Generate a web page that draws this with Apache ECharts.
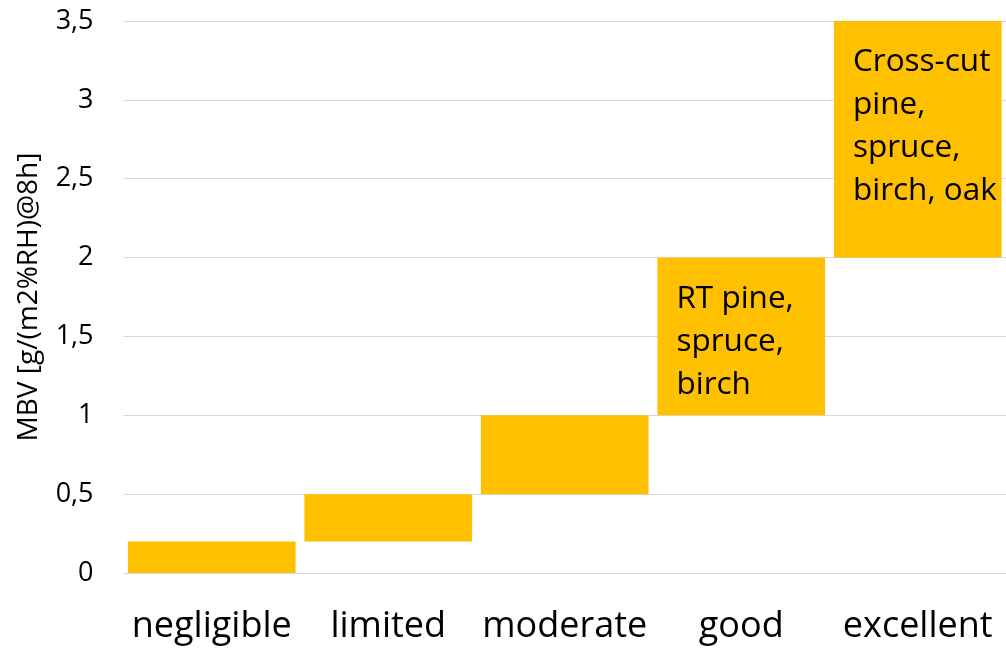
<!DOCTYPE html>
<html>
<head>
<meta charset="utf-8">
<script src="https://cdn.jsdelivr.net/npm/echarts@6/dist/echarts.min.js"></script>
<style>
  html, body { margin: 0; padding: 0; background: #fff; }
  #chart { width: 1006px; height: 651px; }
</style>
</head>
<body>
<div id="chart"></div>
<script>
// MBV classes: each class spans a range from low to high
const categories = ['negligible', 'limited', 'moderate', 'good', 'excellent'];
const lows = [0, 0.2, 0.5, 1, 2];
const highs = [0.2, 0.5, 1, 2, 3.5];
const notes = ['', '', '', 'RT pine,\nspruce,\nbirch', 'Cross-cut\npine,\nspruce,\nbirch, oak'];
const yTicks = [0, 0.5, 1, 1.5, 2, 2.5, 3, 3.5];

const FONT = '"Open Sans", "Liberation Sans", sans-serif';
const spans = highs.map((h, i) => +(h - lows[i]).toFixed(3));

const chart = echarts.init(document.getElementById('chart'), null, { renderer: 'canvas' });
chart.setOption({
  animation: false,
  grid: { left: 123.5, right: 0, top: 21, bottom: 78, containLabel: false },
  xAxis: {
    type: 'category',
    data: categories,
    axisLine: { show: false },
    axisTick: { show: false },
    axisLabel: { interval: 0, fontSize: 36, color: '#000', margin: 36, fontFamily: FONT }
  },
  yAxis: {
    type: 'value',
    min: yTicks[0],
    max: yTicks[yTicks.length - 1],
    interval: 0.5,
    name: 'MBV [g/(m2%RH)@8h]',
    nameLocation: 'middle',
    nameGap: 80,
    nameTextStyle: { fontSize: 28, color: '#000', fontFamily: FONT },
    axisLine: { show: false },
    axisTick: { show: false },
    splitLine: { lineStyle: { color: '#d9d9d9', width: 1 } },
    axisLabel: {
      fontSize: 27, color: '#000', margin: 30, fontFamily: FONT,
      formatter: v => String(v).replace('.', ',')
    }
  },
  series: [
    {
      name: 'base',
      type: 'bar',
      stack: 'range',
      data: lows,
      itemStyle: { color: 'transparent' },
      barCategoryGap: '5%',
      silent: true
    },
    {
      name: 'range',
      type: 'bar',
      stack: 'range',
      data: spans,
      barCategoryGap: '5%',
      itemStyle: { color: '#FFC000' },
      label: {
        show: true,
        position: 'insideTopLeft',
        distance: 0,
        padding: [20, 0, 0, 19],
        formatter: p => notes[p.dataIndex],
        fontSize: 31.5,
        lineHeight: 43,
        color: '#000',
        fontFamily: FONT
      }
    }
  ]
});
</script>
</body>
</html>
